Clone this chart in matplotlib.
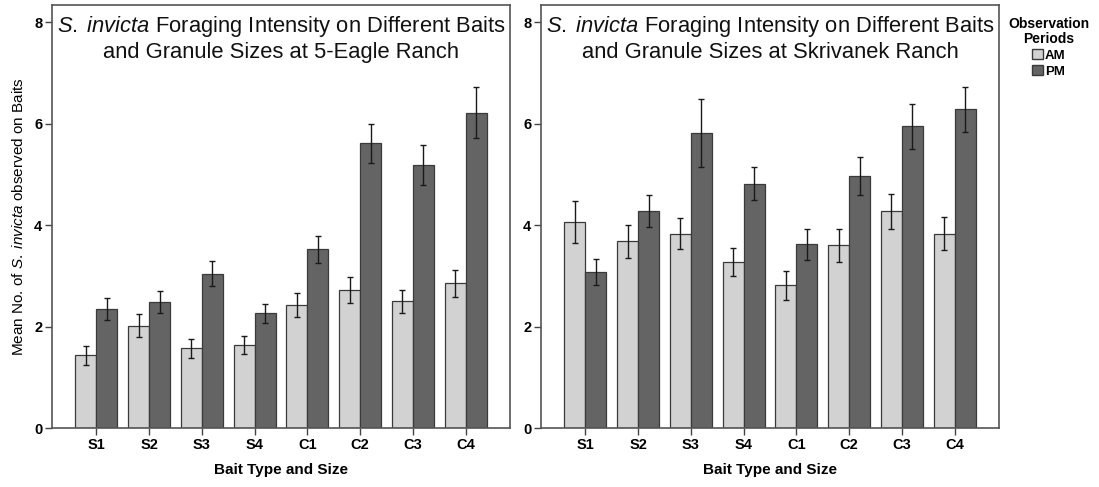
import matplotlib
matplotlib.use("Agg")
import matplotlib.pyplot as plt
import numpy as np
from matplotlib.patches import Patch

plt.rcParams["font.family"] = ["Liberation Sans", "DejaVu Sans"]
plt.rcParams["mathtext.fontset"] = "custom"
plt.rcParams["mathtext.rm"] = "Liberation Sans"
plt.rcParams["mathtext.it"] = "Liberation Sans:italic"

baits = ["S1", "S2", "S3", "S4", "C1", "C2", "C3", "C4"]

# 5-Eagle Ranch
eagle_am = [1.43, 2.02, 1.57, 1.64, 2.42, 2.72, 2.50, 2.85]
eagle_am_err = [0.19, 0.22, 0.18, 0.18, 0.24, 0.26, 0.23, 0.27]
eagle_pm = [2.35, 2.48, 3.04, 2.26, 3.52, 5.61, 5.19, 6.22]
eagle_pm_err = [0.22, 0.22, 0.25, 0.19, 0.27, 0.39, 0.39, 0.50]

# Skrivanek Ranch
skriv_am = [4.06, 3.68, 3.83, 3.27, 2.81, 3.60, 4.27, 3.83]
skriv_am_err = [0.42, 0.32, 0.31, 0.28, 0.29, 0.33, 0.34, 0.33]
skriv_pm = [3.08, 4.28, 5.81, 4.82, 3.62, 4.97, 5.95, 6.28]
skriv_pm_err = [0.26, 0.31, 0.67, 0.33, 0.30, 0.38, 0.44, 0.44]

SPECIES = "$\\mathit{S.\\;invicta}$"
titles = [
    SPECIES + " Foraging Intensity on Different Baits\n"
    "and Granule Sizes at 5-Eagle Ranch",
    SPECIES + " Foraging Intensity on Different Baits\n"
    "and Granule Sizes at Skrivanek Ranch",
]

AM_COLOR = "#d2d2d2"
PM_COLOR = "#646464"
EDGE = "#3a3a3a"

W, H = 1099, 487
fig = plt.figure(figsize=(W / 100, H / 100), dpi=100)
ax1 = fig.add_axes([52 / W, 1 - 428 / H, (510 - 52) / W, (428 - 5) / H])
ax2 = fig.add_axes([541 / W, 1 - 428 / H, (999 - 541) / W, (428 - 5) / H])

x = np.arange(len(baits))
bw = 0.4
panels = [
    (ax1, eagle_am, eagle_am_err, eagle_pm, eagle_pm_err, titles[0]),
    (ax2, skriv_am, skriv_am_err, skriv_pm, skriv_pm_err, titles[1]),
]

for ax, am, am_err, pm, pm_err, title in panels:
    ekw = dict(ecolor="#1a1a1a", elinewidth=1.0, capsize=2.5, capthick=1.0)
    ax.bar(x - bw / 2, am, bw, yerr=am_err, color=AM_COLOR, edgecolor=EDGE,
           linewidth=0.9, error_kw=ekw)
    ax.bar(x + bw / 2, pm, bw, yerr=pm_err, color=PM_COLOR, edgecolor=EDGE,
           linewidth=0.9, error_kw=ekw)
    ax.set_xlim(-0.84, 7.84)
    ax.set_ylim(0, 8.34)
    ax.set_yticks([0, 2, 4, 6, 8])
    ax.set_xticks(x)
    ax.set_xticklabels(baits, fontweight="bold", fontsize=10.5)
    for lab in ax.get_yticklabels():
        lab.set_fontweight("bold")
        lab.set_fontsize(10.5)
    ax.tick_params(direction="out", length=5, width=1.0, color="#444444", pad=2)
    for sp in ax.spines.values():
        sp.set_color("#555555")
        sp.set_linewidth(1.2)
    ax.set_xlabel("Bait Type and Size", fontweight="bold", fontsize=11, labelpad=8)
    ax.text(0.5, 0.978, title, transform=ax.transAxes, ha="center", va="top",
            fontsize=15.8, linespacing=1.15, color="#111111")

ax1.set_ylabel("Mean No. of " + SPECIES + " observed on Baits",
               fontsize=11, labelpad=6)

handles = [Patch(facecolor=AM_COLOR, edgecolor=EDGE, label="AM"),
           Patch(facecolor=PM_COLOR, edgecolor=EDGE, label="PM")]
leg = fig.legend(handles=handles, title="Observation\nPeriods",
                 loc="upper center", bbox_to_anchor=(1049 / W, 1 - 8 / H),
                 frameon=False, prop={"weight": "bold", "size": 9.5},
                 title_fontproperties={"weight": "bold", "size": 10},
                 handlelength=0.8, handleheight=0.8, handletextpad=0.15,
                 labelspacing=0.25, borderpad=0.2)
leg._legend_box.align = "center"
leg.get_title().set_multialignment("center")
leg.get_title().set_linespacing(1.05)

fig.savefig("out.png", dpi=100)
